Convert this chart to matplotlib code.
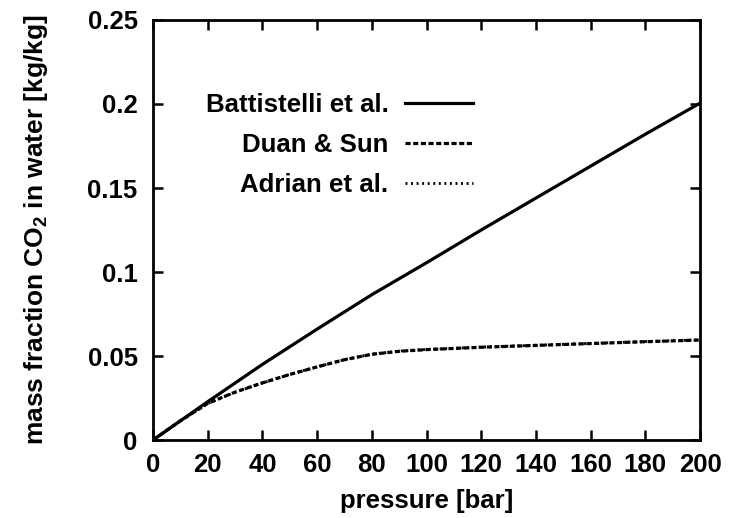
import matplotlib
matplotlib.use("Agg")
import matplotlib.pyplot as plt
import numpy as np

plt.rcParams['font.family'] = ['Liberation Sans', 'DejaVu Sans']
plt.rcParams['font.weight'] = 'bold'
plt.rcParams['mathtext.fontset'] = 'custom'
plt.rcParams['mathtext.bf'] = 'Liberation Sans:bold'
plt.rcParams['mathtext.rm'] = 'Liberation Sans:bold'
plt.rcParams['mathtext.default'] = 'bf'

# Data
pressure_batt = [0, 20, 40, 60, 80, 100, 120, 140, 160, 180, 200]
batt = [0, 0.0228, 0.0450, 0.0660, 0.0865, 0.1055, 0.1250, 0.1440, 0.1630, 0.1820, 0.2005]

pressure_duan = [0, 10, 20, 30, 40, 50, 60, 70, 80, 90, 100, 120, 140, 160, 180, 200]
duan = [0, 0.0114, 0.0218, 0.0285, 0.0340, 0.0390, 0.0435, 0.0478, 0.0510, 0.0528, 0.0538,
        0.0552, 0.0563, 0.0574, 0.0585, 0.0595]
adrian = [0, 0.0114, 0.0217, 0.0284, 0.0339, 0.0390, 0.0436, 0.0478, 0.0511, 0.0529, 0.0539,
          0.0553, 0.0564, 0.0575, 0.0586, 0.0596]

xticks = [0, 20, 40, 60, 80, 100, 120, 140, 160, 180, 200]
yticks = [0, 0.05, 0.1, 0.15, 0.2, 0.25]
ytick_labels = ['0', '0.05', '0.1', '0.15', '0.2', '0.25']

FS = 18.5
LFS = 19

fig = plt.figure(figsize=(7.4, 5.18), dpi=100)
ax = fig.add_axes([153/740, 78/518, 547/740, 420/518])

ax.plot(pressure_batt, batt, color='black', lw=2.3, label='Battistelli et al.')
ax.plot(pressure_duan, duan, color='black', lw=2.3, linestyle=(0, (1.6, 0.8)), label='Duan & Sun')
ax.plot(pressure_duan, adrian, color='black', lw=2.0, linestyle=(0, (0.7, 1.3)), label='Adrian et al.')

ax.set_xlim(0, 200)
ax.set_ylim(0, 0.25)
ax.set_xticks(xticks)
ax.set_xticklabels([str(t) for t in xticks])
ax.set_yticks(yticks)
ax.set_yticklabels(ytick_labels)
ax.tick_params(direction='in', length=7, width=1.8, top=True, right=True,
               labelsize=FS)
ax.tick_params(axis='y', pad=11)
ax.tick_params(axis='x', pad=9)
for s in ax.spines.values():
    s.set_linewidth(2.0)

ax.set_xlabel('pressure [bar]', fontsize=18.5, fontweight='bold', labelpad=9)
ax.set_ylabel(r'mass fraction CO$_2$ in water [kg/kg]', fontsize=LFS, fontweight='bold', labelpad=27)

leg = ax.legend(loc='upper right', bbox_to_anchor=(0.585, 0.826), frameon=False,
                markerfirst=False, fontsize=18.6, handlelength=2.65, labelspacing=0.62,
                handletextpad=0.62, borderaxespad=0, borderpad=0)
for t in leg.get_texts():
    t.set_ha('right')
    t.set_fontweight('bold')

fig.savefig('out.png', dpi=100)
